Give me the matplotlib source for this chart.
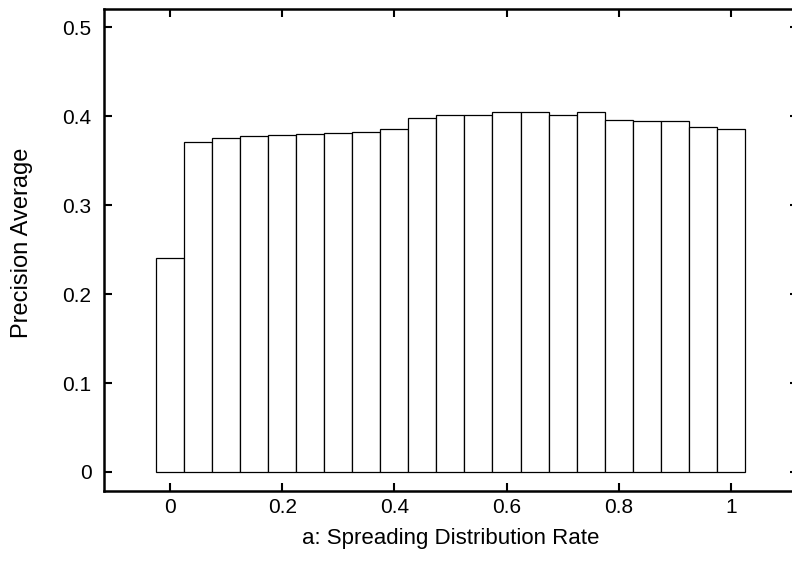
import matplotlib
matplotlib.use('Agg')
import matplotlib.pyplot as plt
import numpy as np

# spreading distribution rate a, and precision average for each
rates = [0.00, 0.05, 0.10, 0.15, 0.20, 0.25, 0.30, 0.35, 0.40, 0.45, 0.50,
         0.55, 0.60, 0.65, 0.70, 0.75, 0.80, 0.85, 0.90, 0.95, 1.00]
precision = [0.241, 0.371, 0.375, 0.378, 0.379, 0.380, 0.381, 0.382, 0.386, 0.398, 0.401,
             0.401, 0.405, 0.405, 0.401, 0.405, 0.396, 0.394, 0.395, 0.388, 0.386]

xticks = [0, 0.2, 0.4, 0.6, 0.8, 1]
xticklabels = ['0', '0.2', '0.4', '0.6', '0.8', '1']
yticks = [0, 0.1, 0.2, 0.3, 0.4, 0.5]
yticklabels = ['0', '0.1', '0.2', '0.3', '0.4', '0.5']

plt.rcParams['font.family'] = ['Liberation Sans', 'DejaVu Sans']

fig = plt.figure(figsize=(7.92, 5.62), dpi=100)
ax = fig.add_axes([0.1313, 0.1269, 0.8763, 0.8565])

ax.bar(rates, precision, width=0.05, align='center',
       facecolor='white', edgecolor='black', linewidth=0.9)

ax.set_xlim(-0.118, 1.12)
ax.set_ylim(-0.021, 0.52)

ax.set_xticks(xticks)
ax.set_xticklabels(xticklabels)
ax.set_yticks(yticks)
ax.set_yticklabels(yticklabels)

ax.tick_params(direction='in', length=6, width=1.5, top=True, right=True,
               labelsize=15)
ax.tick_params(axis='y', pad=9)
ax.tick_params(axis='x', pad=5)

for s in ax.spines.values():
    s.set_linewidth(1.8)

ax.set_xlabel('a: Spreading Distribution Rate', fontsize=16, labelpad=8)
ax.set_ylabel('Precision Average', fontsize=17)
ax.yaxis.set_label_coords(-0.102, 0.514)

fig.savefig('out.png', dpi=100)
